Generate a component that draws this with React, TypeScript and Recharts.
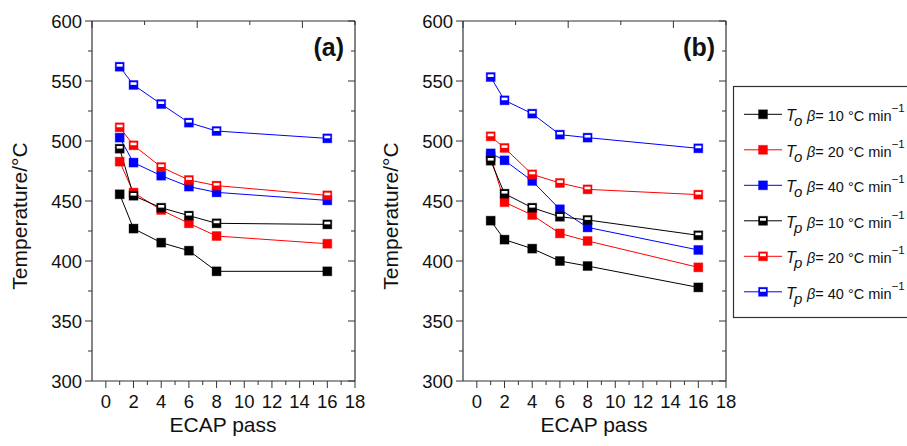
import { LineChart, Line, XAxis, YAxis } from "recharts";

// ECAP passes (x values shared by every series)
const passes = [1, 2, 4, 6, 8, 16];

// Panel (a)
const aTo10 = [455.6, 427, 415.3, 408.6, 391.4, 391.4];
const aTo20 = [482.8, 457, 442.5, 431.4, 420.8, 414.4];
const aTo40 = [502.8, 482, 471.1, 462, 457.2, 450.5];
const aTp10 = [493.6, 454.4, 444.4, 437.8, 431.4, 430.5];
const aTp20 = [511.4, 496.4, 478.3, 467.5, 462.8, 454.7];
const aTp40 = [561.9, 546.7, 530.8, 515.3, 508.3, 502.2];

// Panel (b)
const bTo10 = [433.6, 417.8, 410.3, 400, 395.8, 378];
const bTo20 = [487, 449, 438.3, 423, 416.7, 394.7];
const bTo40 = [489.7, 483.9, 466.7, 443.1, 428, 409.2];
const bTp10 = [483.6, 456.1, 444.4, 436.9, 434.2, 421.4];
const bTp20 = [503.9, 494.2, 472.2, 465, 459.7, 455.3];
const bTp40 = [553.3, 533.9, 522.8, 505.3, 502.8, 493.9];

const xTicks = [0, 1, 2, 3, 4, 5, 6, 7, 8, 9, 10, 11, 12, 13, 14, 15, 16, 17, 18];
const yTicks = [300, 325, 350, 375, 400, 425, 450, 475, 500, 525, 550, 575, 600];

const rates = ["10", "20", "40"];
const colors = ["#000000", "#ff0000", "#0000ff"];

const FONT = "'Liberation Sans', Arial, Helvetica, sans-serif";
const AXIS = "#333";

// series descriptors: onset (filled) then peak (half-open), same order as legend
const seriesKeys = [
  { key: "To10", color: colors[0], open: false },
  { key: "To20", color: colors[1], open: false },
  { key: "To40", color: colors[2], open: false },
  { key: "Tp10", color: colors[0], open: true },
  { key: "Tp20", color: colors[1], open: true },
  { key: "Tp40", color: colors[2], open: true },
];

function buildRows(sets: Record<string, number[]>) {
  return passes.map((x, i) => {
    const row: Record<string, number> = { x };
    Object.keys(sets).forEach((k) => (row[k] = sets[k][i]));
    return row;
  });
}

const dataA = buildRows({ To10: aTo10, To20: aTo20, To40: aTo40, Tp10: aTp10, Tp20: aTp20, Tp40: aTp40 });
const dataB = buildRows({ To10: bTo10, To20: bTo20, To40: bTo40, Tp10: bTp10, Tp20: bTp20, Tp40: bTp40 });

// Square marker; "open" ones get a white stripe in the upper half
function Marker({ cx, cy, color, open }: { cx: number; cy: number; color: string; open: boolean }) {
  const s = 9;
  return (
    <g>
      <rect x={cx - s / 2} y={cy - s / 2} width={s} height={s} fill={color} stroke={color} strokeOpacity={0.35} strokeWidth={1} />
      {open && <rect x={cx - s / 2 + 1.5} y={cy - s / 2 + 1.8} width={s - 3} height={2.6} fill="#fff" />}
    </g>
  );
}

const makeDot = (color: string, open: boolean) => (props: any) => {
  const { cx, cy } = props;
  if (cx == null || cy == null) return <g key={`n-${props.index}`} />;
  return (
    <g key={`${color}-${open}-${props.index}`}>
      <Marker cx={cx} cy={cy} color={color} open={open} />
    </g>
  );
};

// Tick renderers (tickSize/tickMargin are 0 so x,y sit on the axis line)
function BottomTick({ x, y, payload }: any) {
  const major = payload.value % 2 === 0;
  return (
    <g>
      <line x1={x} y1={y} x2={x} y2={y + (major ? 7 : 4)} stroke={AXIS} />
      {major && (
        <text x={x} y={y + 27} textAnchor="middle" fontSize={18.5} fontFamily={FONT} fill="#111">
          {payload.value}
        </text>
      )}
    </g>
  );
}

function TopTick({ x, y, payload }: any) {
  const major = payload.value % 2 === 0;
  return <line x1={x} y1={y} x2={x} y2={y + (major ? 7 : 4)} stroke={AXIS} />;
}

function LeftTick({ x, y, payload }: any) {
  const major = payload.value % 50 === 0;
  return (
    <g>
      <line x1={x - (major ? 7 : 4)} y1={y} x2={x} y2={y} stroke={AXIS} />
      {major && (
        <text x={x - 10} y={y + 6.5} textAnchor="end" fontSize={18.5} fontFamily={FONT} fill="#111">
          {payload.value}
        </text>
      )}
    </g>
  );
}

function RightTick({ x, y, payload }: any) {
  const major = payload.value % 50 === 0;
  return <line x1={x - (major ? 7 : 4)} y1={y} x2={x} y2={y} stroke={AXIS} />;
}

function Panel({ data, left }: { data: Record<string, number>[]; left: number }) {
  return (
    <div style={{ position: "absolute", left, top: 0 }}>
      <LineChart width={370} height={446} data={data} margin={{ top: 20, right: 14, bottom: 64, left: 91 }}>
        <XAxis
          xAxisId="bottom"
          dataKey="x"
          type="number"
          domain={[-1, 18]}
          ticks={xTicks}
          interval={0}
          allowDataOverflow
          height={1}
          tickSize={0}
          tickMargin={0}
          tickLine={false}
          tick={<BottomTick />}
          axisLine={{ stroke: AXIS, strokeWidth: 1.2 }}
        />
        <XAxis
          xAxisId="top"
          orientation="top"
          type="number"
          domain={[-1, 18]}
          ticks={xTicks}
          interval={0}
          allowDataOverflow
          height={1}
          tickSize={0}
          tickMargin={0}
          tickLine={false}
          tick={<TopTick />}
          axisLine={{ stroke: AXIS, strokeWidth: 1.2 }}
        />
        <YAxis
          yAxisId="left"
          type="number"
          domain={[300, 600]}
          ticks={yTicks}
          interval={0}
          allowDataOverflow
          width={1}
          tickSize={0}
          tickMargin={0}
          tickLine={false}
          tick={<LeftTick />}
          axisLine={{ stroke: AXIS, strokeWidth: 1.2 }}
        />
        <YAxis
          yAxisId="right"
          orientation="right"
          type="number"
          domain={[300, 600]}
          ticks={yTicks}
          interval={0}
          allowDataOverflow
          width={1}
          tickSize={0}
          tickMargin={0}
          tickLine={false}
          tick={<RightTick />}
          axisLine={{ stroke: AXIS, strokeWidth: 1.2 }}
        />
        {seriesKeys.map((s) => (
          <Line
            key={s.key}
            xAxisId="bottom"
            yAxisId="left"
            type="linear"
            dataKey={s.key}
            stroke={s.color}
            strokeWidth={1}
            dot={makeDot(s.color, s.open)}
            activeDot={false}
            isAnimationActive={false}
          />
        ))}
      </LineChart>
    </div>
  );
}

function LegendBox() {
  const rows = seriesKeys.map((s, i) => ({ ...s, rate: rates[i % 3], sub: s.open ? "p" : "o" }));
  return (
    <g fontFamily={FONT} fill="#111">
      <rect x={733.5} y={86.5} width={220} height={231} fill="none" stroke={AXIS} strokeWidth={1.2} />
      {rows.map((r, i) => {
        const y = 114.3 + i * 35.5;
        return (
          <g key={r.key}>
            <line x1={744} y1={y} x2={782} y2={y} stroke={r.color} strokeWidth={1} />
            <Marker cx={763} cy={y} color={r.color} open={r.open} />
            <text x={786} y={y + 7} fontSize={16} fontStyle="italic">T</text>
            <text x={794} y={y + 12} fontSize={15} fontStyle="italic">{r.sub}</text>
            <text x={807} y={y + 7} fontSize={14.5}>
              <tspan fontStyle="italic">β</tspan>
              <tspan>= {r.rate} °C min</tspan>
              <tspan dy={-9} fontSize={11.5}>−1</tspan>
            </text>
          </g>
        );
      })}
    </g>
  );
}

export default function App() {
  return (
    <div style={{ position: "absolute", left: 0, top: 0, width: 907, height: 446, background: "#fff", overflow: "hidden" }}>
      <Panel data={dataA} left={0} />
      <Panel data={dataB} left={371} />
      <svg width={907} height={446} style={{ position: "absolute", left: 0, top: 0, pointerEvents: "none" }}>
        <g fontFamily={FONT} fill="#111">
          <text transform="translate(27,216) rotate(-90)" textAnchor="middle" fontSize={21}>Temperature/°C</text>
          <text transform="translate(398,216) rotate(-90)" textAnchor="middle" fontSize={21}>Temperature/°C</text>
          <text x={223} y={432} textAnchor="middle" fontSize={21}>ECAP pass</text>
          <text x={594} y={432} textAnchor="middle" fontSize={21}>ECAP pass</text>
          <text x={344} y={56} textAnchor="end" fontSize={25} fontWeight="bold">(a)</text>
          <text x={715} y={56} textAnchor="end" fontSize={25} fontWeight="bold">(b)</text>
        </g>
        <LegendBox />
      </svg>
    </div>
  );
}
